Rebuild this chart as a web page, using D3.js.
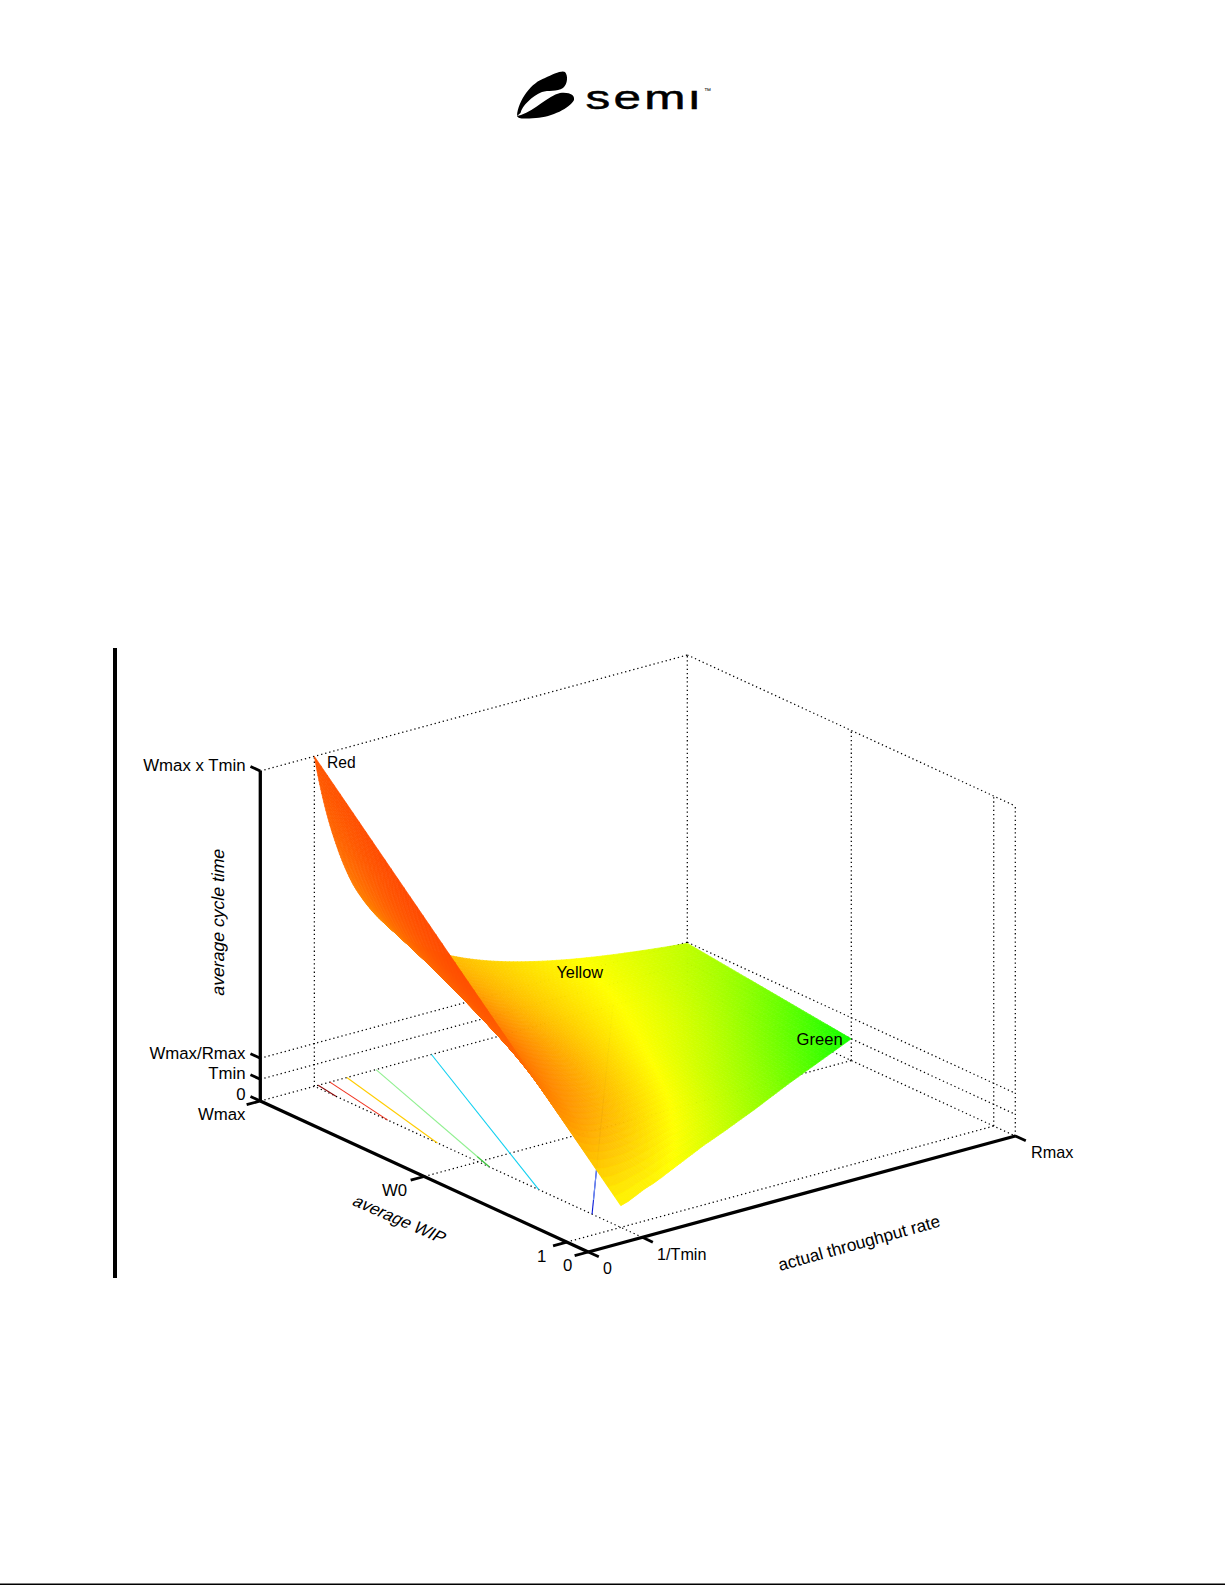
<!DOCTYPE html>
<html><head><meta charset="utf-8">
<script src="https://cdn.jsdelivr.net/npm/d3@7"></script>
<style>html,body{margin:0;padding:0;background:#fff}svg{display:block}text{font-family:"Liberation Sans",Arial,sans-serif;fill:#000}</style>
</head><body><svg id="c" width="1225" height="1585"></svg>
<script>
// ---- axis ranges and ticks (arbitrary units, Tmin = 1)
const Rmax = 7.9, Wmax = 15.2, Zmax = 15.2, W0 = 7.6, Tmin = 1, WoverR = 1.97;
const rTicks = [0, 1, Rmax];
const rTickLabels = ["0", "1/Tmin", "Rmax"];
const wTicks = [0, 1, W0, Wmax];
const wTickLabels = ["0", "1", "W0", "Wmax"];
const zTicks = [0, Tmin, WoverR, Zmax];
const zTickLabels = ["0", "Tmin", "Wmax/Rmax", "Wmax x Tmin"];
// ---- surface: one ruled column per R value
const rGrid    = [1, 1.2, 1.4, 1.7, 2, 2.5, 3, 3.5, 4, 5, 6, 7, 7.9];
const wLowGrid = [1, 1.15, 1.35, 1.65, 1.9, 2.4, 2.9, 3.4, 3.85, 4.8, 5.8, 6.75, 7.6];
const zHigh    = [15.2, 12.7, 10.9, 8.9, 7.6, 6.1, 5.07, 4.34, 3.8, 3.04, 2.53, 2.17, 1.92];
// ---- colour of the surface: hue
const hueV0  = [58, 57, 63, 72, 82, 92, 104, 116];
const hueV25 = [27, 36, 45, 57, 70, 80, 92, 104];
const hueV50 = [17, 27, 37, 49, 60, 68, 80, 92];
const hueV75 = [17, 26, 38, 47, 55, 63, 72, 82];
const hueV100= [20, 33, 40, 47, 54, 60, 67, 75];
// ---- contour lines on the floor
const contourLevels = [14.2, 11.8, 9.5, 7.1, 4.8, 2.33];
const contourColors = ["#8a0a0a", "#f0321e", "#ffcc00", "#90f090", "#10d0f0", "#0818d8"];
const contourPieces = [[2.33, 1.37, 2.24, "#7090f0"], [7.1, 1.0, 1.12, "#40c040"]];
const surfaceLabels = ["Red", "Yellow", "Green"];

// ---- projection (orthographic box)
const rS = d3.scaleLinear().domain([0, Rmax]).range([0, 1]);
const wS = d3.scaleLinear().domain([0, Wmax]).range([0, 1]);
const zS = d3.scaleLinear().domain([0, Zmax]).range([0, 1]);
const O = [588.3, 1252], RV = [427, -116], WV = [-328, -151], ZH = 330;
const P = (r, w, z) => [O[0] + rS(r) * RV[0] + wS(w) * WV[0],
                        O[1] + rS(r) * RV[1] + wS(w) * WV[1] - zS(z) * ZH];
const depth = (r, w, z) => -307 * rS(r) - 399.6 * wS(w) + 126 * zS(z);

const svg = d3.select("#c");
const line = d3.line();
const seg = (g, a, b, cls) => g.append("path").attr("d", line([a, b])).attr("class", cls);

svg.append("style").text(`
 .dot{fill:none;stroke:#000;stroke-width:1.25;stroke-dasharray:1.3 2.9}
 .ax{fill:none;stroke:#000;stroke-width:3.3}
 .tk{fill:none;stroke:#000;stroke-width:2.8}
 .l{font-size:16.8px}
 .s{font-size:16.2px}`);

// ---- page furniture
svg.append("rect").attr("x", 113).attr("y", 648).attr("width", 4).attr("height", 630).attr("fill", "#000");
svg.append("rect").attr("x", 0).attr("y", 1583.5).attr("width", 1225).attr("height", 1.5).attr("fill", "#000");
const logo = svg.append("g");
logo.append("path").attr("fill", "#000").attr("d",
 "M517 116C518 100 532 82 545 78C553 74 562 70 565 72C568 75 568 84 563 88C557 92 548 90 542 92C532 96 522 106 520.5 113Z");
logo.append("path").attr("fill", "#000").attr("d",
 "M517 116C519 119 522 119 536 118C552 117 570 108 574 100C575 95 570 92 560 93C548 96 535 110 521 115Z");
logo.append("text").text("semi").attr("transform", "translate(585.5,108.5) scale(1.5,1)")
 .attr("font-size", 33).attr("letter-spacing", 2.2).attr("stroke", "#000").attr("stroke-width", .45);
logo.append("rect").attr("x", 688).attr("y", 80).attr("width", 14).attr("height", 10).attr("fill", "#fff");
logo.append("text").text("™").attr("x", 704).attr("y", 93).attr("font-size", 7);

// ---- dotted box and grid
const grid = svg.append("g");
[[[0, Wmax, Zmax], [Rmax, Wmax, Zmax]], [[Rmax, Wmax, Zmax], [Rmax, 0, Zmax]],
 [[Rmax, Wmax, 0], [Rmax, Wmax, Zmax]], [[Rmax, 0, 0], [Rmax, 0, Zmax]],
 [[0, Wmax, 0], [Rmax, Wmax, 0]], [[Rmax, Wmax, 0], [Rmax, 0, 0]]]
 .forEach(([a, b]) => seg(grid, P(...a), P(...b), "dot"));
zTicks.slice(1, 3).forEach(z => {
  seg(grid, P(0, Wmax, z), P(Rmax, Wmax, z), "dot");
  seg(grid, P(Rmax, Wmax, z), P(Rmax, 0, z), "dot");
});
rTicks.slice(1, 2).forEach(r => {
  seg(grid, P(r, Wmax, 0), P(r, Wmax, Zmax), "dot");
  seg(grid, P(r, 0, 0), P(r, Wmax, 0), "dot");
});
wTicks.slice(1, 3).forEach(w => {
  seg(grid, P(Rmax, w, 0), P(Rmax, w, Zmax), "dot");
  seg(grid, P(0, w, 0), P(Rmax, w, 0), "dot");
});

// ---- contours on the floor
const cont = svg.append("g");
contourLevels.forEach((c, i) => {
  cont.append("path").attr("d", line([P(1, c, 0), P(Wmax / c, Wmax, 0)]))
   .attr("fill", "none").attr("stroke", contourColors[i]).attr("stroke-width", 1.1);
});
contourPieces.forEach(([c, a, b, col]) => {
  cont.append("path").attr("d", line([P(a, c * a, 0), P(b, c * b, 0)]))
   .attr("fill", "none").attr("stroke", col).attr("stroke-width", 1.1);
});

// ---- surface
const geo = (a, b) => t => a * Math.pow(b / a, t);
const zTop = d3.scaleLog().domain(rGrid).range(zHigh).interpolate(geo);
const wLow = d3.scaleLinear().domain(rGrid).range(wLowGrid);
const hueRows = [hueV0, hueV25, hueV50, hueV75, hueV100].map(row => d3.interpolateBasis(row));
const rT = d3.scaleLinear().domain([1, Rmax]).range([0, 1]);
const hue = (r, v) => d3.interpolateBasis(hueRows.map(f => f(rT(r))))(v);
const NR = 130, NV = 48;
const rSample = i => Math.exp(Math.log(Rmax) * i / NR);
const pt = (i, j) => {
  const r = rSample(i), v = j / NV, wl = wLow(r);
  return { r, v, w: wl + (Wmax - wl) * v, z: Tmin + (zTop(r) - Tmin) * v };
};
const quads = [];
for (let i = 0; i < NR; i++) for (let j = 0; j < NV; j++) {
  const c = [pt(i, j), pt(i + 1, j), pt(i + 1, j + 1), pt(i, j + 1)];
  const m = { r: d3.mean(c, d => d.r), v: d3.mean(c, d => d.v), w: d3.mean(c, d => d.w), z: d3.mean(c, d => d.z) };
  quads.push({ pts: c.map(d => P(d.r, d.w, d.z)), d: depth(m.r, m.w, m.z), col: d3.hsl(hue(m.r, m.v), 1, .5).formatHex() });
}
quads.sort((a, b) => d3.ascending(a.d, b.d));
svg.append("g").selectAll("path").data(quads).join("path")
 .attr("d", d => line(d.pts) + "Z").attr("fill", d => d.col).attr("stroke", d => d.col)
 .attr("stroke-width", .7).attr("stroke-linejoin", "round");

// ---- solid axes and ticks
const axes = svg.append("g");
seg(axes, P(0, Wmax, 0), P(0, Wmax, Zmax), "ax");
seg(axes, P(0, Wmax, 0), P(0, 0, 0), "ax");
seg(axes, P(0, 0, 0), P(Rmax, 0, 0), "ax");
zTicks.forEach(z => seg(axes, P(0, Wmax, z), P(0, Wmax * 1.03, z), "tk"));
wTicks.forEach(w => seg(axes, P(0, w, 0), P(-Rmax * .032, w, 0), "tk"));
rTicks.forEach(r => seg(axes, P(r, 0, 0), P(r, -Wmax * .032, 0), "tk"));

// ---- texts
const lab = svg.append("g");
const zy = { "0": 1094, "Tmin": 1073, "Wmax/Rmax": 1053, "Wmax x Tmin": 765 };
zTickLabels.forEach(t => lab.append("text").text(t).attr("class", "l").attr("x", 245.5).attr("y", zy[t] + 6).attr("text-anchor", "end"));
lab.append("text").text(wTickLabels[3]).attr("class", "l").attr("x", 245.5).attr("y", 1120).attr("text-anchor", "end");
lab.append("text").text(wTickLabels[2]).attr("class", "l").attr("x", 382).attr("y", 1196).attr("font-size", 17);
lab.append("text").text(wTickLabels[1]).attr("class", "l").attr("x", 537).attr("y", 1262);
lab.append("text").text(wTickLabels[0]).attr("class", "l").attr("x", 563).attr("y", 1271);
lab.append("text").text(rTickLabels[0]).attr("x", 603).attr("y", 1274).attr("font-size", 16);
lab.append("text").text(rTickLabels[1]).attr("class", "s").attr("x", 657).attr("y", 1259.5);
lab.append("text").text(rTickLabels[2]).attr("class", "s").attr("x", 1031).attr("y", 1158);
lab.append("text").text("average cycle time").attr("font-size", 17.6)
 .attr("transform", "translate(223.5,996.5) rotate(-90) skewX(-12)");
lab.append("text").text("average WIP").attr("font-size", 17)
 .attr("transform", "translate(351,1204.5) rotate(23.5) skewX(-14)");
lab.append("text").text("actual throughput rate").attr("font-size", 17.2)
 .attr("transform", "translate(780,1271) rotate(-15.5)");
[[327, 768, 15.6], [556.5, 977.5, 16.3], [796.5, 1044.5, 16.6]].forEach(([x, y, f], i) =>
  lab.append("text").text(surfaceLabels[i]).attr("x", x).attr("y", y).attr("font-size", f));
</script></body></html>
